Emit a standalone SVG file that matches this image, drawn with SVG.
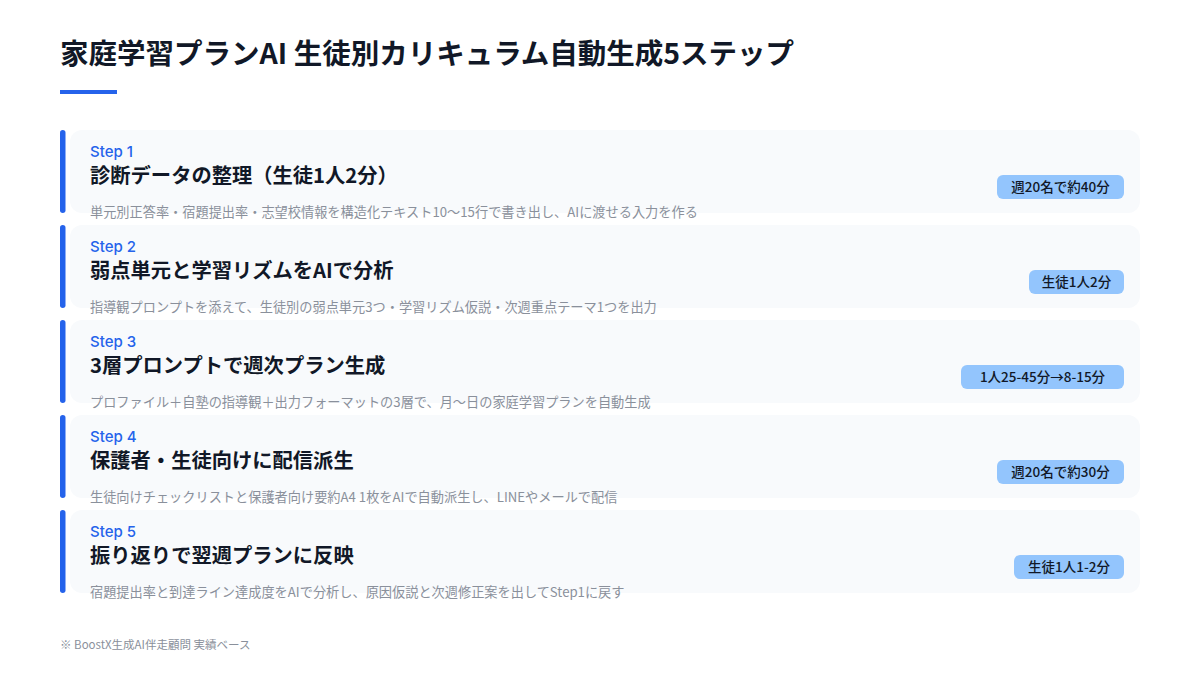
<svg xmlns="http://www.w3.org/2000/svg" width="1200" height="675" viewBox="0 0 1200 675">
<defs>
<style>
.bg{fill:#ffffff}
.card{fill:#f8fafc}
.bar{fill:#2563eb}
.step{font-family:"Inter","Noto Sans CJK JP",sans-serif;font-size:15px;font-weight:500;fill:#2563eb}
.ttl{font-family:"Noto Sans CJK JP",sans-serif;font-size:20.3px;font-weight:700;fill:#111827}
.desc{font-family:"Noto Sans CJK JP",sans-serif;font-size:13.2px;font-weight:400;fill:#8a909b}
.badge{fill:#93c5fd}
.btxt{font-family:"Noto Sans CJK JP",sans-serif;font-size:13.5px;font-weight:500;fill:#111827;text-anchor:middle}
.head{font-family:"Noto Sans CJK JP",sans-serif;font-size:28.5px;font-weight:700;fill:#111827}
.foot{font-family:"Noto Sans CJK JP",sans-serif;font-size:11.5px;fill:#8a909b}
</style>
</defs>
<rect class="bg" x="0" y="0" width="1200" height="675"/>
<g id="header">
<text class="head" x="60" y="64">家庭学習プランAI 生徒別カリキュラム自動生成5ステップ</text>
<rect x="60" y="90" width="57" height="4" fill="#2563eb"/>
</g>
<g id="connectors"></g>
<g id="step1">
<rect class="card" x="70" y="130" width="1070" height="83" rx="12"/>
<rect class="bar" x="60" y="130" width="5.5" height="83" rx="2.75"/>
<text class="step" x="90" y="157">Step 1</text>
<text class="ttl" x="90" y="183">診断データの整理（生徒1人2分）</text>
<text class="desc" x="90" y="217">単元別正答率・宿題提出率・志望校情報を構造化テキスト10〜15行で書き出し、AIに渡せる入力を作る</text>
<rect class="badge" x="997" y="175" width="127" height="24" rx="6"/>
<text class="btxt" x="1060.5" y="192">週20名で約40分</text>
</g>
<g id="step2">
<rect class="card" x="70" y="225" width="1070" height="83" rx="12"/>
<rect class="bar" x="60" y="225" width="5.5" height="83" rx="2.75"/>
<text class="step" x="90" y="252">Step 2</text>
<text class="ttl" x="90" y="278">弱点単元と学習リズムをAIで分析</text>
<text class="desc" x="90" y="312">指導観プロンプトを添えて、生徒別の弱点単元3つ・学習リズム仮説・次週重点テーマ1つを出力</text>
<rect class="badge" x="1029" y="270" width="95" height="24" rx="6"/>
<text class="btxt" x="1076.5" y="287">生徒1人2分</text>
</g>
<g id="step3">
<rect class="card" x="70" y="320" width="1070" height="83" rx="12"/>
<rect class="bar" x="60" y="320" width="5.5" height="83" rx="2.75"/>
<text class="step" x="90" y="347">Step 3</text>
<text class="ttl" x="90" y="373">3層プロンプトで週次プラン生成</text>
<text class="desc" x="90" y="407">プロファイル＋自塾の指導観＋出力フォーマットの3層で、月〜日の家庭学習プランを自動生成</text>
<rect class="badge" x="961" y="365" width="163" height="24" rx="6"/>
<text class="btxt" x="1042.5" y="382">1人25-45分→8-15分</text>
</g>
<g id="step4">
<rect class="card" x="70" y="415" width="1070" height="83" rx="12"/>
<rect class="bar" x="60" y="415" width="5.5" height="83" rx="2.75"/>
<text class="step" x="90" y="442">Step 4</text>
<text class="ttl" x="90" y="468">保護者・生徒向けに配信派生</text>
<text class="desc" x="90" y="502">生徒向けチェックリストと保護者向け要約A4 1枚をAIで自動派生し、LINEやメールで配信</text>
<rect class="badge" x="997" y="460" width="127" height="24" rx="6"/>
<text class="btxt" x="1060.5" y="477">週20名で約30分</text>
</g>
<g id="step5">
<rect class="card" x="70" y="510" width="1070" height="83" rx="12"/>
<rect class="bar" x="60" y="510" width="5.5" height="83" rx="2.75"/>
<text class="step" x="90" y="537">Step 5</text>
<text class="ttl" x="90" y="563">振り返りで翌週プランに反映</text>
<text class="desc" x="90" y="597">宿題提出率と到達ライン達成度をAIで分析し、原因仮説と次週修正案を出してStep1に戻す</text>
<rect class="badge" x="1014" y="555" width="110" height="24" rx="6"/>
<text class="btxt" x="1069" y="572">生徒1人1-2分</text>
</g>
<g id="footer">
<text class="foot" x="60" y="649">※ BoostX生成AI伴走顧問 実績ベース</text>
</g>
</svg>
